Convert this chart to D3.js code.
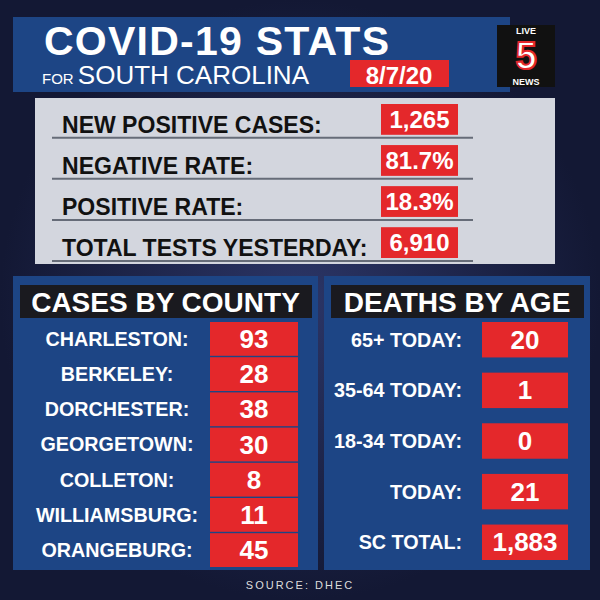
<!DOCTYPE html>
<html><head><meta charset="utf-8">
<script src="https://cdn.jsdelivr.net/npm/d3@7"></script>
<style>body{margin:0;background:#161c3a}</style>
</head><body>
<svg id="c" width="600" height="600"></svg>
<script>
var summaryLabels = ["NEW POSITIVE CASES:", "NEGATIVE RATE:", "POSITIVE RATE:", "TOTAL TESTS YESTERDAY:"];
var summaryValues = ["1,265", "81.7%", "18.3%", "6,910"];
var counties = ["CHARLESTON:", "BERKELEY:", "DORCHESTER:", "GEORGETOWN:", "COLLETON:", "WILLIAMSBURG:", "ORANGEBURG:"];
var countyCases = [93, 28, 38, 30, 8, 11, 45];
var ageGroups = ["65+ TODAY:", "35-64 TODAY:", "18-34 TODAY:", "TODAY:", "SC TOTAL:"];
var ageDeaths = [20, 1, 0, 21, 1883];

var svg = d3.select("#c");
var font = "'Liberation Sans', Arial, sans-serif";
var red = "#e4282b", blue = "#1d4585";

// background
var grad = svg.append("defs").append("radialGradient").attr("id", "bg");
grad.append("stop").attr("offset", "0%").attr("stop-color", "#2b3566");
grad.append("stop").attr("offset", "100%").attr("stop-color", "#131834");
svg.append("rect").attr("width", 600).attr("height", 600).attr("fill", "url(#bg)");

// header
svg.append("rect").attr("x", 13).attr("y", 17).attr("width", 497).attr("height", 75).attr("fill", blue);
svg.append("text").attr("x", 44).attr("y", 55).attr("fill", "#fff").attr("font-family", font)
    .attr("font-weight", 900).attr("font-size", 41).attr("textLength", 345).text("COVID-19 STATS");
var sub = svg.append("text").attr("x", 42).attr("y", 84).attr("fill", "#fff").attr("font-family", font);
sub.append("tspan").attr("font-size", 15).text("FOR ");
sub.append("tspan").attr("font-size", 26).text("SOUTH CAROLINA");
svg.append("rect").attr("x", 350).attr("y", 60).attr("width", 99).attr("height", 27).attr("fill", red);
svg.append("text").attr("x", 399).attr("y", 84).attr("text-anchor", "middle").attr("fill", "#fff")
    .attr("font-family", font).attr("font-weight", 700).attr("font-size", 24).text("8/7/20");

// logo
var logo = svg.append("g");
logo.append("rect").attr("x", 497).attr("y", 25).attr("width", 58).attr("height", 62).attr("fill", "#111");
logo.append("text").attr("x", 526).attr("y", 34).attr("text-anchor", "middle").attr("fill", "#fff")
    .attr("font-family", font).attr("font-weight", 700).attr("font-size", 9).text("LIVE");
logo.append("text").attr("x", 526).attr("y", 69).attr("text-anchor", "middle").attr("fill", "#fff")
    .attr("stroke", red).attr("stroke-width", 2).attr("font-family", font).attr("font-weight", 900)
    .attr("font-size", 38).text("5");
logo.append("text").attr("x", 526).attr("y", 85).attr("text-anchor", "middle").attr("fill", "#fff")
    .attr("font-family", font).attr("font-weight", 700).attr("font-size", 9).text("NEWS");

// summary panel
svg.append("rect").attr("x", 35).attr("y", 98).attr("width", 520).attr("height", 166).attr("fill", "#d3d6de");
var ySum = d3.scaleBand().domain(summaryLabels).range([104, 258]).paddingInner(0.25);
var sRow = svg.selectAll(".srow").data(summaryLabels).join("g").attr("class", "srow");
sRow.append("line").attr("x1", 52).attr("x2", 473)
    .attr("y1", function (d) { return ySum(d) + ySum.bandwidth() + 3; })
    .attr("y2", function (d) { return ySum(d) + ySum.bandwidth() + 3; })
    .attr("stroke", "#666c78").attr("stroke-width", 2);
sRow.append("text").attr("x", 62).attr("y", function (d) { return ySum(d) + ySum.bandwidth() - 2; })
    .attr("font-family", font).attr("font-weight", 700).attr("font-size", 24).attr("fill", "#111")
    .attr("transform", "translate(62,0) scale(0.96,1) translate(-62,0)")
    .text(function (d) { return d; });
sRow.append("rect").attr("x", 381).attr("y", function (d) { return ySum(d); })
    .attr("width", 77).attr("height", ySum.bandwidth()).attr("fill", red);
sRow.append("text").attr("x", 419.5).attr("y", function (d) { return ySum(d) + ySum.bandwidth() - 7; })
    .attr("text-anchor", "middle").attr("font-family", font).attr("font-weight", 700)
    .attr("font-size", 24).attr("fill", "#fff").text(function (d, i) { return summaryValues[i]; });

// lower panels
function panel(x, w, title, labels, values, boxX, boxW, labelX, anchor, range, pad) {
    svg.append("rect").attr("x", x).attr("y", 276).attr("width", w).attr("height", 294).attr("fill", blue);
    svg.append("rect").attr("x", x + 7).attr("y", 285).attr("width", w - 13).attr("height", 33).attr("fill", "#1a1a1f");
    svg.append("text").attr("x", x + w / 2).attr("y", 312).attr("text-anchor", "middle").attr("fill", "#fff")
        .attr("font-family", font).attr("font-weight", 700).attr("font-size", 28).text(title);
    var y = d3.scaleBand().domain(labels).range(range).paddingInner(pad);
    var g = svg.selectAll(null).data(labels).join("g");
    g.append("rect").attr("x", boxX).attr("y", function (d) { return y(d); })
        .attr("width", boxW).attr("height", y.bandwidth()).attr("fill", red);
    g.append("text").attr("x", boxX + boxW / 2).attr("y", function (d) { return y(d) + y.bandwidth() / 2 + 9; })
        .attr("text-anchor", "middle").attr("fill", "#fff").attr("font-family", font).attr("font-weight", 700)
        .attr("font-size", 26).text(function (d, i) { return d3.format(",")(values[i]); });
    g.append("text").attr("x", labelX).attr("y", function (d) { return y(d) + y.bandwidth() / 2 + 7; })
        .attr("text-anchor", anchor).attr("fill", "#fff").attr("font-family", font).attr("font-weight", 700)
        .attr("font-size", 21)
        .attr("transform", "translate(" + labelX + ",0) scale(0.94,1) translate(" + (-labelX) + ",0)")
        .text(function (d) { return d; });
}
panel(13, 305, "CASES BY COUNTY", counties, countyCases, 210, 88, 117, "middle", [322, 567], 0.04);
panel(324, 266, "DEATHS BY AGE", ageGroups, ageDeaths, 482, 86, 462, "end", [322, 560], 0.3);

svg.append("text").attr("x", 300).attr("y", 589).attr("text-anchor", "middle").attr("fill", "#ddd")
    .attr("font-family", font).attr("font-size", 11).attr("letter-spacing", 2).text("SOURCE: DHEC");
</script>
</body></html>
